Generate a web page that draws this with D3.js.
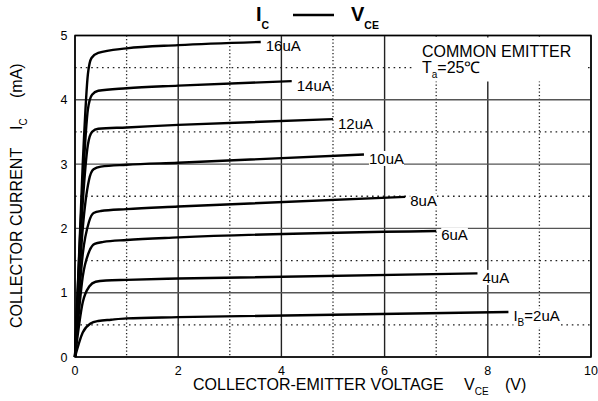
<!DOCTYPE html>
<html>
<head>
<meta charset="utf-8">
<script src="https://cdn.jsdelivr.net/npm/d3@7"></script>
<style>
body { margin: 0; background: #fff; }
text { font-family: "Liberation Sans", Arial, sans-serif; fill: #000; }
</style>
</head>
<body>
<script>
var width = 598, height = 401;

// axis ticks
var xTicks = [0, 2, 4, 6, 8, 10];
var yTicks = [0, 1, 2, 3, 4, 5];
var xMinor = [1, 3, 5, 7, 9];
var yMinor = [0.5, 1.5, 2.5, 3.5, 4.5];

// base current labels
var ibLabels = ["16uA", "14uA", "12uA", "10uA", "8uA", "6uA", "4uA", "2uA"];

// [VCE (V), IC (mA)]
var ib16 = [[0, 0], [0.15, 3.0], [0.25, 4.4], [0.32, 4.65], [0.45, 4.73], [1, 4.8], [2, 4.85], [3.6, 4.9]];
var ib14 = [[0, 0], [0.15, 2.7], [0.25, 3.85], [0.33, 4.08], [0.45, 4.14], [1, 4.18], [2, 4.22], [4.2, 4.29]];
var ib12 = [[0, 0], [0.15, 2.4], [0.25, 3.3], [0.33, 3.5], [0.45, 3.55], [1, 3.57], [2, 3.61], [5.0, 3.7]];
var ib10 = [[0, 0], [0.15, 2.0], [0.27, 2.75], [0.36, 2.92], [0.5, 2.96], [1, 2.99], [2, 3.02], [5.6, 3.15]];
var ib8  = [[0, 0], [0.15, 1.6], [0.27, 2.1], [0.36, 2.24], [0.5, 2.27], [1, 2.3], [2, 2.34], [6.4, 2.49]];
var ib6  = [[0, 0], [0.15, 1.25], [0.28, 1.65], [0.38, 1.76], [0.55, 1.79], [1, 1.82], [2, 1.86], [7.0, 1.96]];
var ib4  = [[0, 0], [0.15, 0.85], [0.28, 1.1], [0.4, 1.17], [0.6, 1.19], [1, 1.2], [2, 1.22], [7.8, 1.3]];
var ib2  = [[0, 0], [0.15, 0.38], [0.3, 0.52], [0.45, 0.56], [0.7, 0.58], [1, 0.6], [2, 0.62], [8.4, 0.7]];

var curves = [ib16, ib14, ib12, ib10, ib8, ib6, ib4, ib2];

var x = d3.scaleLinear().domain([0, 10]).range([75, 591]);
var y = d3.scaleLinear().domain([0, 5]).range([357, 35.5]);

var svg = d3.select("body").append("svg")
    .attr("width", width)
    .attr("height", height);

// grid
var grid = svg.append("g");

grid.selectAll(".vminor").data(xMinor).enter().append("line")
    .attr("x1", function (d) { return x(d); })
    .attr("x2", function (d) { return x(d); })
    .attr("y1", y(5)).attr("y2", y(0))
    .attr("stroke", "#222").attr("stroke-width", 1.3)
    .attr("stroke-dasharray", "1.3,2.2");

grid.selectAll(".hminor").data(yMinor).enter().append("line")
    .attr("x1", x(0)).attr("x2", x(10))
    .attr("y1", function (d) { return y(d); })
    .attr("y2", function (d) { return y(d); })
    .attr("stroke", "#222").attr("stroke-width", 1.3)
    .attr("stroke-dasharray", "1.6,3.8");

grid.selectAll(".vmajor").data(xTicks).enter().append("line")
    .attr("x1", function (d) { return x(d); })
    .attr("x2", function (d) { return x(d); })
    .attr("y1", y(5)).attr("y2", y(0))
    .attr("stroke", "#222").attr("stroke-width", 1.4);

grid.selectAll(".hmajor").data(yTicks).enter().append("line")
    .attr("x1", x(0)).attr("x2", x(10))
    .attr("y1", function (d) { return y(d); })
    .attr("y2", function (d) { return y(d); })
    .attr("stroke", "#555").attr("stroke-width", 1.4);

// white note box over the grid
svg.append("rect")
    .attr("x", 412).attr("y", 37.5)
    .attr("width", 176).attr("height", 44)
    .attr("fill", "#fff");

var note = svg.append("g");
note.append("text")
    .attr("x", 422).attr("y", 57)
    .attr("font-size", 16)
    .text("COMMON EMITTER");
var ta = note.append("text")
    .attr("x", 422).attr("y", 72.5)
    .attr("font-size", 16);
ta.append("tspan").text("T");
ta.append("tspan").attr("font-size", 10).attr("dy", 5).text("a");
ta.append("tspan").attr("dy", -5).text("=25\u2103");

// frame
svg.append("rect")
    .attr("x", x(0)).attr("y", y(5))
    .attr("width", x(10) - x(0)).attr("height", y(0) - y(5))
    .attr("fill", "none").attr("stroke", "#000").attr("stroke-width", 1.5);

// curves
var line = d3.line()
    .x(function (d) { return x(d[0]); })
    .y(function (d) { return y(d[1]); })
    .curve(d3.curveMonotoneX);

svg.append("g").selectAll("path").data(curves).enter().append("path")
    .attr("d", line)
    .attr("fill", "none")
    .attr("stroke", "#000")
    .attr("stroke-width", 2.4)
    .attr("stroke-linejoin", "round");

// curve labels
var labels = svg.append("g").selectAll("g").data(curves).enter().append("g");

labels.each(function (d, i) {
    var end = d[d.length - 1];
    var g = d3.select(this);
    var t = g.append("text")
        .attr("x", x(end[0]) + 5)
        .attr("y", y(end[1]) + 9.5)
        .attr("font-size", 15);
    var name = ibLabels[i];
    if (i === curves.length - 1) {
        t.append("tspan").text("I");
        t.append("tspan").attr("font-size", 10).attr("dy", 5).text("B");
        t.append("tspan").attr("dy", -5).text("=" + name);
    } else {
        t.text(name);
    }
    if (i > 0) {
        var b = t.node().getBBox();
        g.insert("rect", "text")
            .attr("x", b.x).attr("y", b.y + 1)
            .attr("width", b.width).attr("height", b.height - 2)
            .attr("fill", "#fff");
    }
});

// tick labels
svg.append("g").selectAll("text").data(xTicks).enter().append("text")
    .attr("x", function (d) { return x(d); })
    .attr("y", 374.5)
    .attr("text-anchor", "middle")
    .attr("font-size", 12.5)
    .text(function (d) { return d; });

svg.append("g").selectAll("text").data(yTicks).enter().append("text")
    .attr("x", 67.5)
    .attr("y", function (d) { return y(d) + 4.5; })
    .attr("text-anchor", "end")
    .attr("font-size", 12.5)
    .text(function (d) { return d; });

// title
var title = svg.append("g");
var t1 = title.append("text").attr("x", 256).attr("y", 21)
    .attr("font-size", 20).attr("font-weight", "bold");
t1.append("tspan").text("I");
t1.append("tspan").attr("font-size", 10.5).attr("dy", 8).text("C");
title.append("line")
    .attr("x1", 293).attr("x2", 334)
    .attr("y1", 15).attr("y2", 15)
    .attr("stroke", "#000").attr("stroke-width", 2.4);
var t2 = title.append("text").attr("x", 351).attr("y", 21)
    .attr("font-size", 20).attr("font-weight", "bold");
t2.append("tspan").text("V");
t2.append("tspan").attr("font-size", 10.5).attr("dy", 8).text("CE");

// x axis title
var xt = svg.append("text").attr("x", 193).attr("y", 390).attr("font-size", 16);
xt.append("tspan").text("COLLECTOR-EMITTER VOLTAGE");
xt.append("tspan").attr("x", 464).text("V");
xt.append("tspan").attr("font-size", 10).attr("dy", 5).text("CE");
xt.append("tspan").attr("x", 505).attr("dy", -5).text("(V)");

// y axis title
var yt = svg.append("text")
    .attr("transform", "translate(22,328) rotate(-90)")
    .attr("font-size", 16);
yt.append("tspan").text("COLLECTOR CURRENT");
yt.append("tspan").attr("x", 198).text("I");
yt.append("tspan").attr("font-size", 10).attr("dy", 5).text("C");
yt.append("tspan").attr("x", 230).attr("dy", -5).text("(mA)");
</script>
</body>
</html>
